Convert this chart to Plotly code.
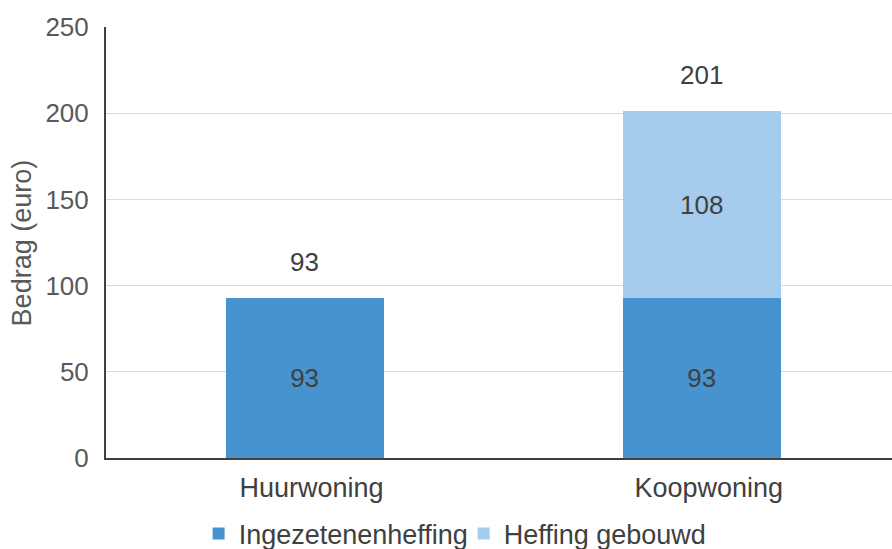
import plotly.graph_objects as go

categories = ["Huurwoning", "Koopwoning"]
ingezetenen = [93, 93]
gebouwd = [0, 108]
totals = [93, 201]
y_ticks = [0, 50, 100, 150, 200, 250]

FONT = "Liberation Sans, Arial, sans-serif"
TXT = "#404040"

fig = go.Figure()
fig.add_trace(go.Bar(
    name="Ingezetenenheffing", x=categories, y=ingezetenen,
    marker=dict(color="#4793d0", line=dict(width=0)),
    text=[str(v) for v in ingezetenen], textposition="inside",
    insidetextanchor="middle", textangle=0,
    textfont=dict(size=26, color=TXT, family=FONT), width=0.398,
))
fig.add_trace(go.Bar(
    name="Heffing gebouwd", x=categories, y=gebouwd,
    marker=dict(color="#a5cbed", line=dict(width=0)),
    text=[str(v) if v else "" for v in gebouwd], textposition="inside",
    insidetextanchor="middle", textangle=0,
    textfont=dict(size=26, color=TXT, family=FONT), width=0.398,
))
for c, t in zip(categories, totals):
    fig.add_annotation(x=c, y=t, text=str(t), showarrow=False, yshift=36,
                       font=dict(size=26, color=TXT, family=FONT))

fig.add_annotation(xref="paper", yref="paper", x=-0.107, y=0.5, text="Bedrag (euro)",
                   textangle=-90, showarrow=False, xanchor="center", yanchor="middle",
                   font=dict(size=27, color="#595959", family=FONT))

fig.update_layout(
    barmode="stack",
    width=892, height=549,
    margin=dict(l=106, r=0, t=27, b=91, autoexpand=False),
    paper_bgcolor="white", plot_bgcolor="white",
    font=dict(family=FONT, color="#595959", size=24),
    uniformtext=dict(minsize=8, mode="show"),
    legend=dict(orientation="h", x=0.455, xanchor="center", y=-0.176, yanchor="middle",
                font=dict(size=27, color="#404040"), itemwidth=30, traceorder="normal",
                entrywidth=220, entrywidthmode="pixels"),
    showlegend=True,
)
fig.update_xaxes(
    range=[-0.5, 1.479], showgrid=False, showline=True, linecolor="#404040", linewidth=2,
    ticks="", tickfont=dict(size=27, color="#404040"), ticklabelstandoff=5,
    ticklabelshift=7, zeroline=False,
)
fig.update_yaxes(
    range=[0, 250], tickvals=y_ticks, showgrid=True, gridcolor="#d9d9d9", gridwidth=1,
    showline=True, linecolor="#404040", linewidth=2, zeroline=False,
    tickfont=dict(size=26, color="#595959"), ticklabelstandoff=10,
    automargin=False,
)
fig.write_html("out.html")
